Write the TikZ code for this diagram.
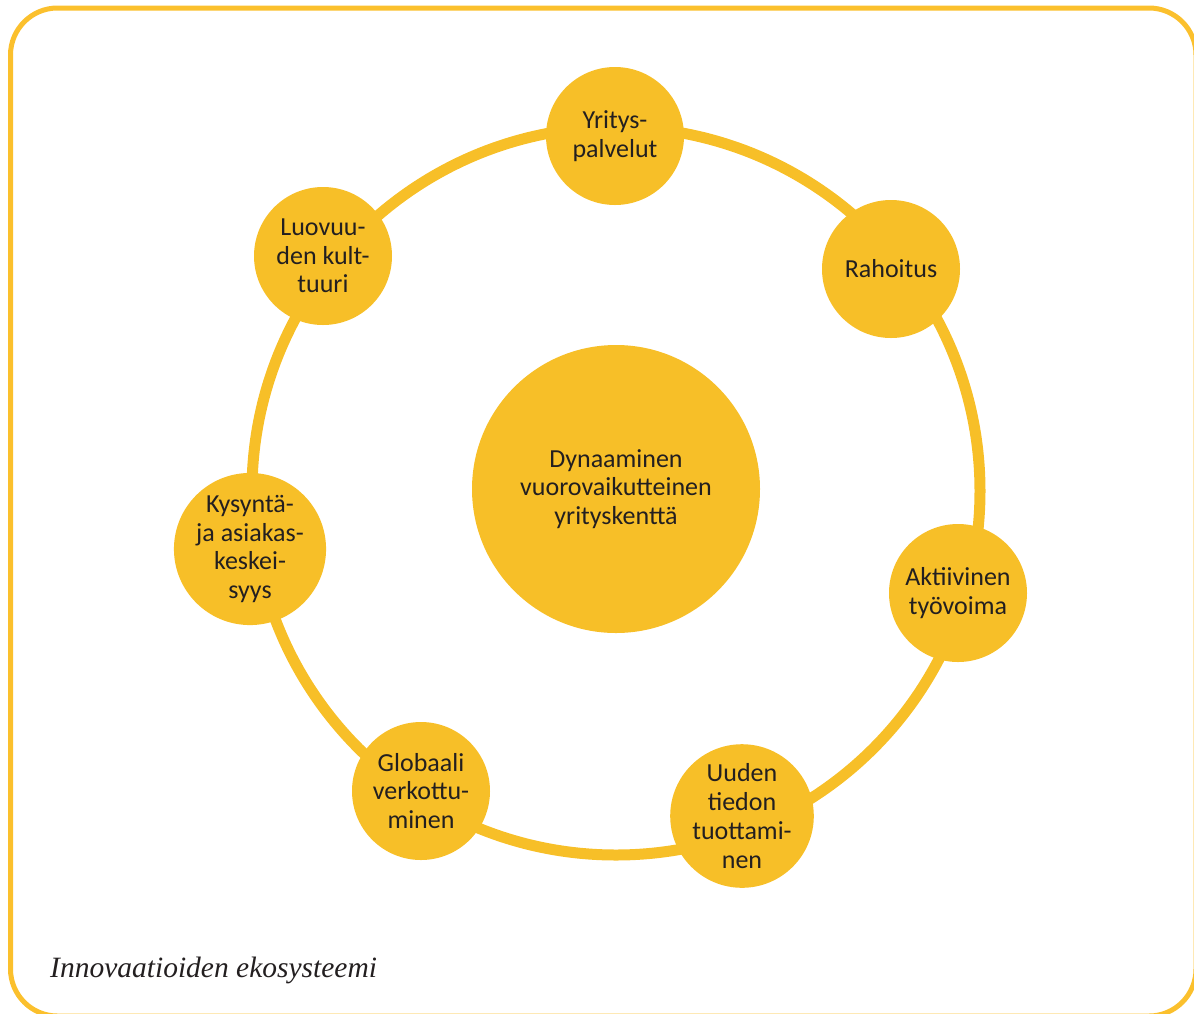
\documentclass[tikz,border=0pt]{standalone}
\usepackage{fontspec}
\setmainfont{Carlito}
\newfontfamily\capfont{Liberation Serif}
\definecolor{yel}{HTML}{F7BF28}
\definecolor{bord}{HTML}{FBC02D}
\definecolor{txt}{HTML}{231F20}
\tikzset{
  hub/.style={circle, fill=yel, inner sep=0pt, outer sep=0pt, minimum size=#1, align=center, text=txt,
    font=\fontsize{26}{28.7}\selectfont},
  ringline/.style={circle, draw=yel, line width=11pt, inner sep=0pt, minimum size=728pt},
}
\begin{document}
\begin{tikzpicture}[x=1pt, y=-1pt]
\useasboundingbox (0,0) rectangle (1194,1013);
\begin{scope}
\clip (0,0) rectangle (1194,1013);
\draw[bord, line width=5pt, rounded corners=47pt] (10.5,8) rectangle (1196,1016);
\end{scope}
\node[ringline] (ring) at (616,491) {};
\node[hub=288pt] (core) at (616,489) {Dynaaminen\\vuorovaikutteinen\\yrityskenttä};
\node[hub=138pt] (yp) at (615,136) {Yritys-\\palvelut};
\node[hub=138pt] (ra) at (891,269) {Rahoitus};
\node[hub=138pt] (at) at (958,593) {Aktiivinen\\työvoima};
\node[hub=140pt] (ut) at (742,816) {Uuden\\tiedon\\tuottami-\\nen};
\node[hub=138pt] (gv) at (421,791) {Globaali\\verkottu-\\minen};
\node[hub=136pt] (ka) at (250,549) {Kysyntä-\\ja asiakas-\\keskei-\\syys};
\node[hub=138pt] (lk) at (323,256) {Luovuu-\\den kult-\\tuuri};
\node[anchor=base west, inner sep=0pt, text=txt, font=\capfont\itshape\fontsize{29.5}{34}\selectfont] (cap) at (50,977) {Innovaatioiden ekosysteemi};
\end{tikzpicture}
\end{document}
